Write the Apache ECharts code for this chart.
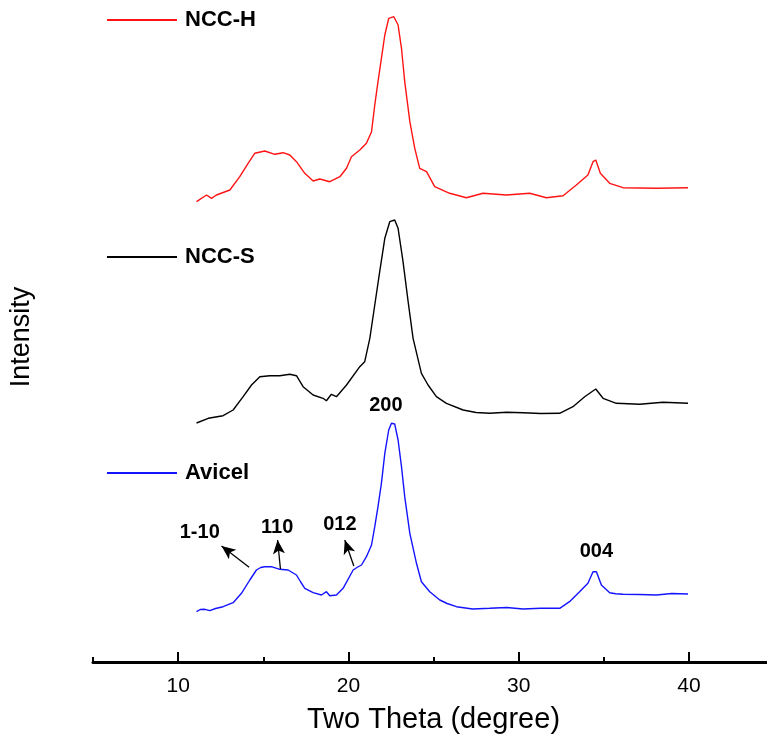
<!DOCTYPE html>
<html>
<head>
<meta charset="utf-8">
<script src="https://cdn.jsdelivr.net/npm/echarts@6/dist/echarts.min.js"></script>
<style>html,body{margin:0;padding:0;background:#fff}#c{width:767px;height:742px}</style>
</head>
<body>
<div id="c"></div>
<script>
// ---- data (2θ in degrees, intensity in arbitrary units) ----
const avicelTheta = [11.08,11.30,11.57,11.86,12.20,12.64,13.23,13.72,14.21,14.60,14.85,15.09,15.48,15.97,16.46,16.95,17.20,17.44,17.93,18.42,18.71,18.91,19.30,19.69,20.28,20.55,20.77,21.06,21.36,21.55,21.74,21.94,22.14,22.37,22.53,22.72,22.92,23.12,23.31,23.61,24.00,24.29,24.78,25.37,25.80,26.35,27.30,28.30,29.30,30.26,31.30,32.41,32.99,33.58,34.07,34.37,34.57,34.86,35.35,35.70,36.13,37.10,38.09,39.00,39.95];
const avicelInt   = [10.3,12.5,12.7,11.3,13.5,15.3,19.3,28.7,42,52,54.5,55.3,55.3,52.7,52,47,40,33.7,29.3,27,30.3,26.3,27,33.7,52,55,57,65.3,77,95.3,115.3,138.7,168.7,192,198.7,198,182,155.3,125.3,88.7,58.7,40.3,30.3,22,18.5,15.3,13,13.7,14.5,13,13.7,13.7,20.3,30.3,38.7,50.3,50.3,37,29.3,28.3,27.7,27.5,27,28.5,28];

const nccSTheta = [11.08,11.77,12.64,13.23,13.82,14.31,14.80,15.38,15.97,16.56,16.95,17.34,17.93,18.51,18.71,19.00,19.30,19.89,20.67,20.96,21.26,21.55,21.84,22.14,22.43,22.72,22.92,23.21,23.51,23.80,24.29,24.68,25.17,25.76,26.74,27.50,28.30,29.30,30.26,31.30,32.41,33.19,33.88,34.53,34.96,35.74,37.11,38.48,39.95];
const nccSInt   = [4,8.7,11.3,17,30.3,42,50.3,51.3,51.3,52.7,51.3,40.3,32,28.7,26.3,32.7,30.3,42,60.3,65.3,88.7,122,155.3,188.7,205.3,207,198.7,165.3,125.3,88.7,53.7,42,30.3,23.7,17,14.5,13.7,14.7,14.3,13.5,13.7,20.3,30.3,38,28.7,23.7,22.7,24.7,23.7];

const nccHTheta = [11.08,11.67,11.96,12.25,13.04,13.62,14.11,14.50,15.09,15.68,16.17,16.56,16.95,17.44,17.93,18.32,18.91,19.50,19.89,20.18,20.67,21.06,21.36,21.55,21.74,21.94,22.14,22.37,22.67,22.92,23.12,23.31,23.61,23.90,24.19,24.59,25.07,25.95,26.93,27.91,29.28,30.65,31.63,32.61,33.39,34.07,34.37,34.53,34.80,35.35,36.13,38.09,39.95];
const nccHInt   = [5.3,12,8.7,12,17,30.3,43.7,53.7,56,52.7,54.3,52,45.3,33.7,26,28,25.3,30.3,38.7,50.3,57,63.7,75.3,102,125.3,148.7,172,188.7,190.3,182,158.7,125.3,85.3,58.7,38.7,35.3,20.3,13.7,9.3,13.7,12,13.7,9.3,11.3,22,32,45.3,47,33.7,23.7,19.3,18.7,19.3];

// vertical stacking offsets of the three patterns
const seriesNames = ['NCC-H','NCC-S','Avicel'];
const offsets = {'NCC-H':455,'NCC-S':235,'Avicel':40};

// x-axis ticks
const majorTicks = [10,20,30,40];
const minorTicks = [5,15,25,35];

// reflection labels (Avicel): text, 2θ, intensity level (on the stacked scale)
const peakLabels = ['200','1-10','110','012','004'];
const peakLabelTheta = [22.20,11.27,15.82,19.50,34.57];
const peakLabelLevel = [257,130,135,138,110.5];
// arrows: [tail θ, tail level] -> [head θ, head level]
const arrowTail = [[14.17,94.7],[16.01,93],[20.32,96]];
const arrowHead = [[12.55,116],[15.84,122],[19.79,122]];

const colors = {'NCC-H':'#ff1414','NCC-S':'#000000','Avicel':'#1414ff'};
const rawData = {
  'NCC-H':[nccHTheta,nccHInt],
  'NCC-S':[nccSTheta,nccSInt],
  'Avicel':[avicelTheta,avicelInt]
};

const chart = echarts.init(document.getElementById('c'));
const FONT = '"Liberation Sans", Arial, sans-serif';

const series = seriesNames.map(n => ({
  name: n,
  type: 'line',
  symbol: 'none',
  smooth: false,
  data: rawData[n][0].map((t,i)=>[t, rawData[n][1][i] + offsets[n]]),
  lineStyle: {color: colors[n], width: 1.4},
  itemStyle: {color: colors[n]},
  z: 3
}));

// arrows on the Avicel pattern
series[2].markLine = {
  silent: true,
  symbol: ['none','arrow'],
  symbolSize: [9,14],
  label: {show:false},
  lineStyle: {color:'#000', width:1.3, type:'solid', opacity:1},
  itemStyle: {color:'#000'},
  data: arrowTail.map((t,i)=>[{coord:t},{coord:arrowHead[i]}])
};

series.push({
  type: 'scatter',
  symbolSize: 0,
  silent: true,
  itemStyle: {opacity: 1, color:'#000'},
  data: peakLabels.map((s,i)=>({name:s, value:[peakLabelTheta[i], peakLabelLevel[i]]})),
  label: {show:true, position:'inside', formatter: p => p.name, opacity:1,
          fontFamily: FONT, fontWeight:'bold', fontSize:20, color:'#000', textBorderWidth:0}
});

const legendTops = {'NCC-H':9,'NCC-S':246,'Avicel':462};
const legends = seriesNames.map(n => ({
  data: [{name:n, icon:'rect'}],
  left: 107,
  top: legendTops[n],
  padding: 0,
  itemWidth: 70,
  itemHeight: 2,
  selectedMode: false,
  textStyle: {fontFamily: FONT, fontWeight:'bold', fontSize:22, color:'#000', padding:[0,0,0,3]}
}));

chart.setOption({
  animation: false,
  backgroundColor: '#fff',
  legend: legends,
  grid: {left: 93, right: -7, top: 0, bottom: 80, containLabel:false, outerBoundsMode:'none'},
  xAxis: [{
    type: 'value', min: 5, max: 45, interval: 5,
    name: 'Two Theta (degree)', nameLocation: 'middle', nameGap: 43,
    nameTextStyle: {fontFamily: FONT, fontSize: 29, color:'#000'},
    axisLine: {show:true, lineStyle:{color:'#000', width:3}},
    axisTick: {show:true, inside:true, length:10, lineStyle:{color:'#000', width:2}, customValues: majorTicks},
    axisLabel: {show:true, margin:14, fontFamily: FONT, fontSize:21, color:'#000', customValues: majorTicks},
    splitLine: {show:false}
  },{
    type: 'value', min: 5, max: 45, interval: 5, position:'bottom',
    axisLine: {show:false},
    axisTick: {show:true, inside:true, length:5, lineStyle:{color:'#000', width:2}, customValues: minorTicks},
    axisLabel: {show:false},
    splitLine: {show:false}
  }],
  yAxis: {
    type: 'value', min: 0, max: 662,
    name: 'Intensity', nameLocation: 'middle', nameGap: 58, nameRotate: 90,
    nameTextStyle: {fontFamily: FONT, fontSize: 27, color:'#000', padding:[0,0,0,-12]},
    axisLine: {show:false}, axisTick:{show:false}, axisLabel:{show:false}, splitLine:{show:false}
  },
  series: series
});
</script>
</body>
</html>
